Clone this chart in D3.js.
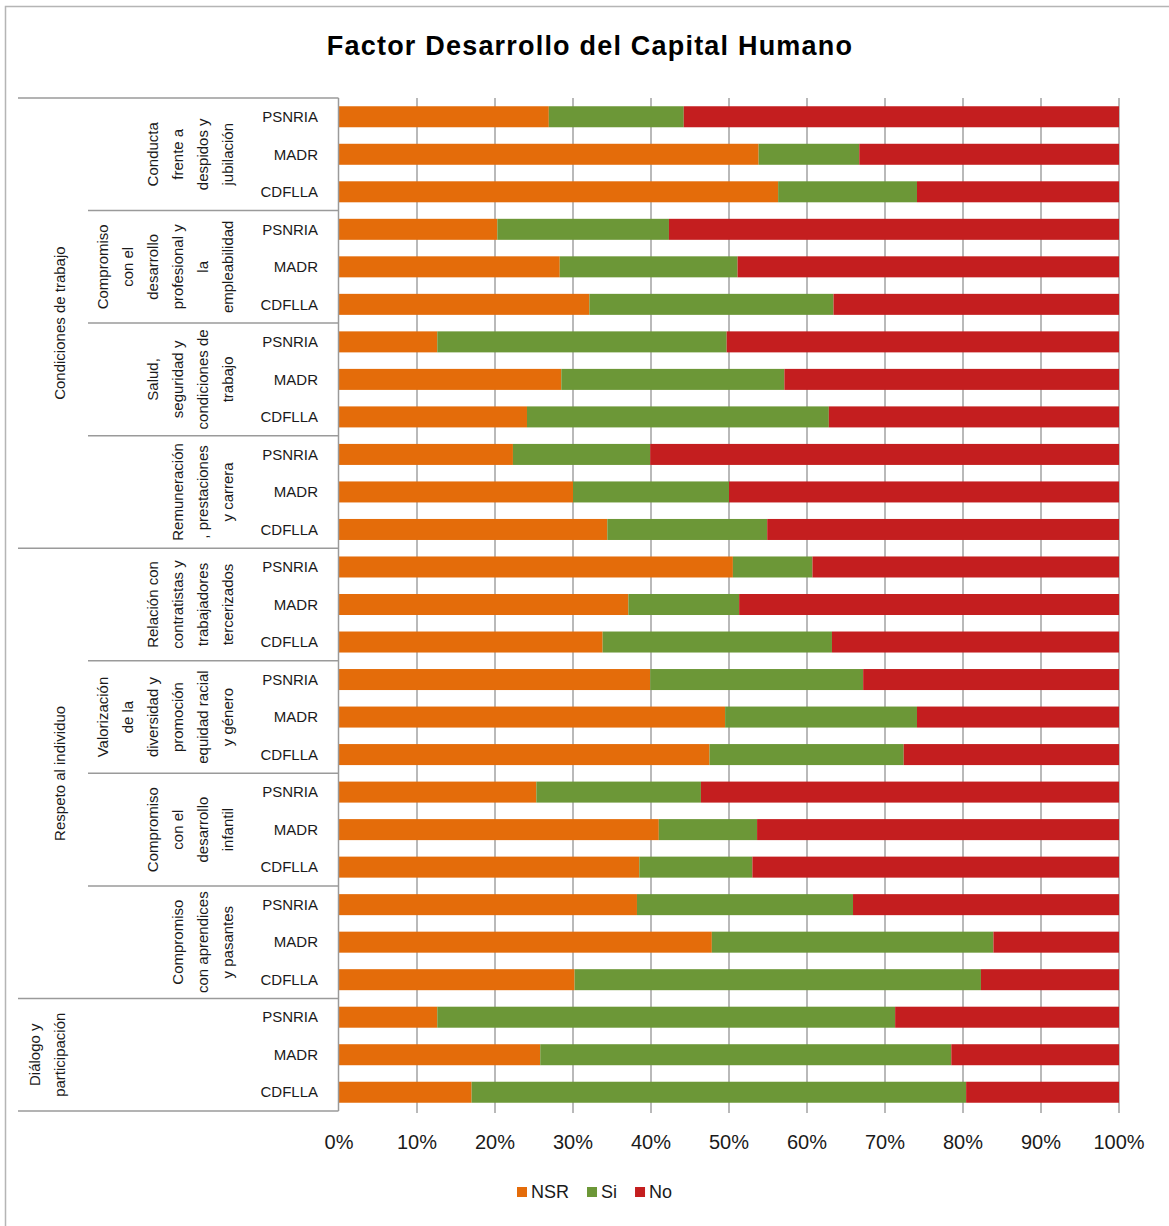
<!DOCTYPE html>
<html>
<head>
<meta charset="utf-8">
<script src="https://cdn.jsdelivr.net/npm/d3@7"></script>
<style>
  body { margin: 0; background: #fff; }
  text { font-family: "Liberation Sans", Arial, sans-serif; fill: #1a1a1a; }
</style>
</head>
<body>
<script>
// entidades que se repiten en cada factor
var entities = ["PSNRIA", "MADR", "CDFLLA"];

// segundo nivel (cada linea del rotulo)
var factors = [
    ["Conducta", "frente a", "despidos y", "jubilación"],
    ["Compromiso", "con el", "desarrollo", "profesional y", "la", "empleabilidad"],
    ["Salud,", "seguridad y", "condiciones de", "trabajo"],
    ["Remuneración", ", prestaciones", "y carrera"],
    ["Relación con", "contratistas y", "trabajadores", "tercerizados"],
    ["Valorización", "de la", "diversidad y", "promoción", "equidad racial", "y género"],
    ["Compromiso", "con el", "desarrollo", "infantil"],
    ["Compromiso", "con aprendices", "y pasantes"],
    []
];

// primer nivel y cuantos factores abarca
var areas = [["Condiciones de trabajo"], ["Respeto al individuo"], ["Diálogo y", "participación"]];
var areaSize = [4, 4, 1];

var series = ["NSR", "Si", "No"];
var colors = ["#E46C0A", "#6C9737", "#C41E1F"];

// porcentajes, fila por fila (PSNRIA, MADR, CDFLLA de cada factor)
var nsr = [26.9, 53.8, 56.3,  20.3, 28.3, 32.1,  12.6, 28.5, 24.1,  22.3, 30.0, 34.4,
           50.5, 37.1, 33.8,  39.9, 49.5, 47.5,  25.3, 41.0, 38.5,  38.2, 47.8, 30.2,
           12.6, 25.8, 17.0];
var si  = [17.3, 12.9, 17.8,  22.0, 22.8, 31.3,  37.1, 28.6, 38.7,  17.6, 20.0, 20.5,
           10.2, 14.2, 29.4,  27.3, 24.6, 24.9,  21.1, 12.6, 14.5,  27.7, 36.1, 52.1,
           58.7, 52.7, 63.4];
var no  = [55.8, 33.3, 25.9,  57.7, 48.9, 36.6,  50.3, 42.9, 37.2,  60.1, 50.0, 45.1,
           39.3, 48.7, 36.8,  32.8, 25.9, 27.6,  53.6, 46.4, 47.0,  34.1, 16.1, 17.7,
           28.7, 21.5, 19.6];

var xTicks = [0, 10, 20, 30, 40, 50, 60, 70, 80, 90, 100];

var width = 1169, height = 1226;
var plotLeft = 339, plotRight = 1119, plotTop = 98, plotBottom = 1111;

var rows = [];
for (var i = 0; i < nsr.length; i++) {
    rows.push({
        id: i,
        entity: entities[i % 3],
        NSR: nsr[i],
        Si: si[i],
        No: no[i]
    });
}

var svg = d3.select("body")
            .append("svg")
            .attr("width", width)
            .attr("height", height);

// borde del grafico
svg.append("path")
    .attr("d", "M5.5," + height + "V6.5H" + width)
    .style("fill", "none")
    .style("stroke", "#b5b5b5")
    .style("stroke-width", 1.5);

var x = d3.scaleLinear().domain([0, 100]).range([plotLeft, plotRight]);
var y = d3.scaleBand()
          .domain(rows.map(function (d) { return d.id; }))
          .range([plotTop, plotBottom])
          .paddingInner(0.44)
          .paddingOuter(0.22);
var step = y.step();
function rowTop(i) { return plotTop + i * step; }

svg.append("text")
    .attr("x", 590)
    .attr("y", 55)
    .attr("text-anchor", "middle")
    .style("font-size", "27px")
    .style("font-weight", "bold")
    .style("letter-spacing", "1.2px")
    .style("fill", "#000")
    .text("Factor Desarrollo del Capital Humano");

// lineas de cuadricula
svg.append("g")
    .selectAll("line")
    .data(xTicks.slice(1))
    .enter()
    .append("line")
    .attr("x1", function (d) { return x(d); })
    .attr("x2", function (d) { return x(d); })
    .attr("y1", plotTop)
    .attr("y2", plotBottom + 2)
    .style("stroke", "#8a8a8a")
    .style("stroke-width", 1.2);

// barras apiladas
var stack = d3.stack().keys(series);
var layers = stack(rows);

svg.append("g")
    .selectAll("g")
    .data(layers)
    .enter()
    .append("g")
    .style("fill", function (d, i) { return colors[i]; })
    .selectAll("rect")
    .data(function (d) { return d; })
    .enter()
    .append("rect")
    .attr("x", function (d) { return x(d[0]); })
    .attr("y", function (d) { return y(d.data.id); })
    .attr("width", function (d) { return x(d[1]) - x(d[0]); })
    .attr("height", y.bandwidth());

// eje vertical y separadores de categorias
var lineColor = "#9a9a9a";
svg.append("line")
    .attr("x1", plotLeft - 0.5).attr("x2", plotLeft - 0.5)
    .attr("y1", plotTop).attr("y2", plotBottom)
    .style("stroke", lineColor).style("stroke-width", 1.5);

var areaBounds = [0];
areaSize.forEach(function (n, i) { areaBounds.push(areaBounds[i] + n); });

var seps = [];
for (var f = 0; f <= factors.length; f++) {
    seps.push({ row: f * 3, x0: areaBounds.indexOf(f) >= 0 ? 18 : 88 });
}
svg.append("g")
    .selectAll("line")
    .data(seps)
    .enter()
    .append("line")
    .attr("x1", function (d) { return d.x0; })
    .attr("x2", plotLeft - 0.5)
    .attr("y1", function (d) { return rowTop(d.row); })
    .attr("y2", function (d) { return rowTop(d.row); })
    .style("stroke", lineColor)
    .style("stroke-width", 1.5);

// etiquetas de entidad
svg.append("g")
    .selectAll("text")
    .data(rows)
    .enter()
    .append("text")
    .attr("x", 318)
    .attr("y", function (d) { return y(d.id) + y.bandwidth() / 2; })
    .attr("dy", "0.35em")
    .attr("text-anchor", "end")
    .style("font-size", "15px")
    .text(function (d) { return d.entity; });

// rotulos rotados (factor y area)
function vlabels(lines, lastX, midY) {
    var g = svg.append("g");
    lines.forEach(function (t, k) {
        var cx = lastX - (lines.length - 1 - k) * 25;
        g.append("text")
            .attr("transform", "translate(" + cx + "," + midY + ") rotate(-90)")
            .attr("text-anchor", "middle")
            .attr("dy", "0.35em")
            .style("font-size", "15px")
            .text(t);
    });
}

factors.forEach(function (lines, f) {
    vlabels(lines, 228, (rowTop(f * 3) + rowTop(f * 3 + 3)) / 2);
});
areas.forEach(function (lines, a) {
    var r0 = areaBounds[a] * 3, r1 = areaBounds[a + 1] * 3;
    vlabels(lines, 60, (rowTop(r0) + rowTop(r1)) / 2);
});

// eje x
svg.append("g")
    .selectAll("text")
    .data(xTicks)
    .enter()
    .append("text")
    .attr("x", function (d) { return x(d); })
    .attr("y", 1149)
    .attr("text-anchor", "middle")
    .style("font-size", "20px")
    .text(function (d) { return d + "%"; });

// leyenda
var legend = svg.append("g").attr("transform", "translate(517,1192)");
var lx = 0;
series.forEach(function (s, i) {
    legend.append("rect")
        .attr("x", lx).attr("y", -5)
        .attr("width", 10).attr("height", 10)
        .style("fill", colors[i]);
    var t = legend.append("text")
        .attr("x", lx + 14)
        .attr("dy", "0.35em")
        .style("font-size", "18px")
        .text(s);
    lx += 14 + t.node().getComputedTextLength() + 18;
});
</script>
</body>
</html>
